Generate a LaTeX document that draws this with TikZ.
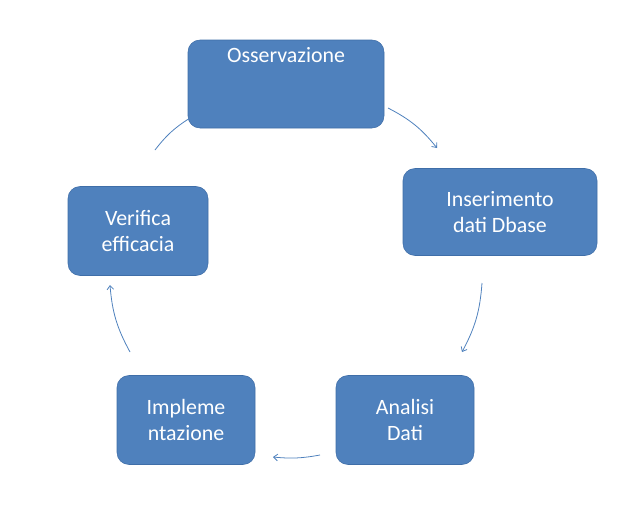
\documentclass[tikz,border=0pt]{standalone}
\usepackage{fontspec}
\setmainfont{Carlito}
\usetikzlibrary{arrows.meta,positioning}
\definecolor{stepfill}{HTML}{4F81BD}
\definecolor{stepline}{HTML}{3F6EA8}
\begin{document}
\begin{tikzpicture}[x=0.0265cm,y=-0.0265cm,
    stepbox/.style={rectangle,rounded corners=9pt,draw=stepline,fill=stepfill,
      text=white,font=\fontsize{16.5}{19.5}\selectfont,align=center},
    flow/.style={stepfill,line width=0.6pt,-{Straight Barb[length=3pt,width=5pt]}}]
    \useasboundingbox (0,0) rectangle (635,513);
    % Steps
    \node[stepbox,minimum width=196*0.0265cm,minimum height=88*0.0265cm] (oss) at (286,84) {Osservazione\\[24pt]};
    \node[stepbox,minimum width=194*0.0265cm,minimum height=87*0.0265cm] (ins) at (500,212) {Inserimento\\dati Dbase};
    \node[stepbox,minimum width=138*0.0265cm,minimum height=89*0.0265cm] (ana) at (405,420) {Analisi\\Dati};
    \node[stepbox,minimum width=138*0.0265cm,minimum height=89*0.0265cm] (imp) at (186,420) {Impleme\\ntazione};
    \node[stepbox,minimum width=140*0.0265cm,minimum height=89*0.0265cm] (ver) at (138,231) {Verifica\\efficacia};
    % Arrow ends
    \coordinate (a1) at (388,108);
    \coordinate (a2) at (437,148);
    \coordinate (b1) at (482,283);
    \coordinate (b2) at (462,352);
    \coordinate (c1) at (320,455);
    \coordinate (c2) at (273,457);
    \coordinate (d1) at (130,352);
    \coordinate (d2) at (110,285);
    \coordinate (e1) at (155,150);
    \coordinate (e2) at (190,118);
    % Cycle
    \draw[flow] (a1) to[bend left=12] (a2);
    \draw[flow] (b1) to[bend left=12] (b2);
    \draw[flow] (c1) to[bend left=8] (c2);
    \draw[flow] (d1) to[bend left=12] (d2);
    \draw[stepfill,line width=0.6pt] (e1) to[bend left=10] (e2);
\end{tikzpicture}
\end{document}
